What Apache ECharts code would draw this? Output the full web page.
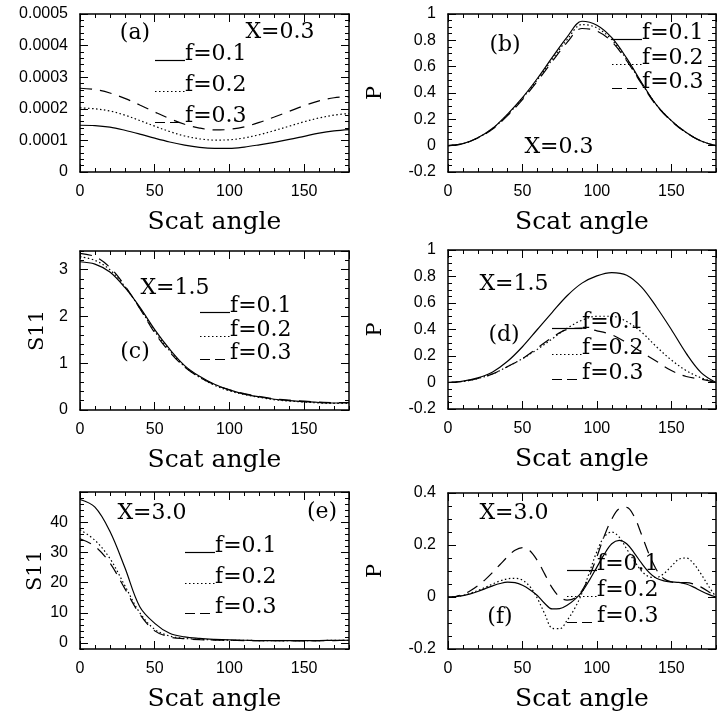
<!DOCTYPE html>
<html lang="en">
<head>
  <meta charset="utf-8">
  <script type="text/javascript" src="https://cdn.jsdelivr.net/npm/echarts@6/dist/echarts.min.js"></script>
</head>
<body style="margin: 0; background: #fff">
  <div id="container" style="width: 725px; height: 713px"></div>
  <script type="text/javascript">
    // scattering angle grids (degrees)
    var angles10 = [0, 10, 20, 30, 40, 50, 60, 70, 80, 90, 100, 110, 120, 130, 140, 150, 160, 170, 180];
    var angles5 = [0, 5, 10, 15, 20, 25, 30, 35, 40, 45, 50, 55, 60, 65, 70, 75, 80, 85, 90,
      95, 100, 105, 110, 115, 120, 125, 130, 135, 140, 145, 150, 155, 160, 165, 170, 175, 180];
    var names = ['f=0.1', 'f=0.2', 'f=0.3'];

    // (a) S11, X=0.3
    var a_f1 = [0.000148, 0.000147, 0.000142, 0.000132, 0.000120, 0.000107, 0.000095, 0.000085, 0.000078, 0.000075,
      0.000075, 0.000079, 0.000086, 0.000094, 0.000103, 0.000113, 0.000123, 0.000130, 0.000134];
    var a_f2 = [0.000203, 0.000200, 0.000193, 0.000180, 0.000163, 0.000145, 0.000128, 0.000114, 0.000105, 0.000101,
      0.000102, 0.000108, 0.000118, 0.000131, 0.000145, 0.000159, 0.000171, 0.000180, 0.000185];
    var a_f3 = [0.000265, 0.000261, 0.000250, 0.000233, 0.000212, 0.000190, 0.000169, 0.000151, 0.000139, 0.000133,
      0.000135, 0.000143, 0.000157, 0.000174, 0.000192, 0.000210, 0.000225, 0.000235, 0.000238];

    // (b) P, X=0.3
    var b_f1 = [0, 0.015, 0.06, 0.132, 0.24, 0.365, 0.51, 0.67, 0.825, 0.945, 0.915, 0.82, 0.665, 0.48, 0.31, 0.19, 0.1, 0.035, 0];
    var b_f2 = [0, 0.015, 0.06, 0.13, 0.235, 0.36, 0.5, 0.655, 0.805, 0.92, 0.895, 0.805, 0.655, 0.475, 0.31, 0.19, 0.1, 0.035, 0];
    var b_f3 = [0, 0.015, 0.058, 0.127, 0.228, 0.35, 0.49, 0.64, 0.785, 0.89, 0.87, 0.79, 0.645, 0.47, 0.305, 0.187, 0.098, 0.034, 0];

    // (c) S11, X=1.5
    var c_f1 = [3.17, 3.12, 2.95, 2.62, 2.2, 1.72, 1.3, 0.95, 0.72, 0.55, 0.43, 0.34, 0.28, 0.23, 0.2, 0.18, 0.16, 0.15, 0.15];
    var c_f2 = [3.28, 3.2, 3.0, 2.64, 2.18, 1.68, 1.27, 0.93, 0.7, 0.53, 0.41, 0.33, 0.27, 0.22, 0.19, 0.17, 0.15, 0.14, 0.14];
    var c_f3 = [3.35, 3.28, 3.05, 2.66, 2.17, 1.65, 1.24, 0.92, 0.7, 0.54, 0.43, 0.35, 0.29, 0.24, 0.21, 0.19, 0.17, 0.16, 0.16];

    // (d) P, X=1.5
    var d_f1 = [0, 0.01, 0.035, 0.08, 0.16, 0.27, 0.4, 0.53, 0.655, 0.75, 0.805, 0.83, 0.81, 0.72, 0.57, 0.4, 0.22, 0.075, 0];
    var d_f2 = [0, 0.008, 0.03, 0.065, 0.12, 0.18, 0.25, 0.33, 0.41, 0.47, 0.5, 0.5, 0.46, 0.38, 0.27, 0.17, 0.09, 0.035, 0];
    var d_f3 = [0, 0.008, 0.03, 0.065, 0.12, 0.18, 0.26, 0.34, 0.4, 0.41, 0.39, 0.36, 0.3, 0.23, 0.16, 0.09, 0.045, 0.025, 0];

    // (e) S11, X=3.0
    var e_f1 = [47.5, 45, 37, 25, 12, 6.5, 3.2, 2.0, 1.5, 1.2, 1.0, 0.9, 0.8, 0.8, 0.75, 0.75, 0.8, 0.85, 0.9];
    var e_f2 = [37.5, 34, 28, 19, 10, 4.5, 2.3, 1.5, 1.2, 1.0, 0.9, 0.85, 0.8, 0.75, 0.75, 0.75, 0.8, 0.85, 0.9];
    var e_f3 = [34.5, 32, 26.5, 18, 9.5, 4, 2, 1.4, 1.1, 0.95, 0.85, 0.8, 0.75, 0.75, 0.7, 0.7, 0.75, 0.8, 0.85];

    // (f) P, X=3.0 (5 degree steps)
    var f_f1 = [0, 0.001, 0.005, 0.012, 0.021, 0.032, 0.043, 0.052, 0.057, 0.055, 0.045, 0.028, 0.006, -0.025, -0.046, -0.045,
      -0.032, -0.01, 0.02, 0.065, 0.115, 0.165, 0.205, 0.218, 0.205, 0.17, 0.13, 0.095, 0.072, 0.062, 0.058, 0.056,
      0.05, 0.038, 0.023, 0.01, 0];
    var f_f2 = [0, 0.001, 0.006, 0.014, 0.025, 0.037, 0.05, 0.062, 0.07, 0.072, 0.065, 0.04, -0.005, -0.065, -0.12, -0.122,
      -0.09, -0.045, 0.015, 0.095, 0.175, 0.232, 0.25, 0.23, 0.185, 0.14, 0.1, 0.078, 0.075, 0.09, 0.118, 0.145,
      0.15, 0.128, 0.088, 0.042, 0];
    var f_f3 = [0, 0.002, 0.01, 0.024, 0.043, 0.067, 0.095, 0.125, 0.155, 0.18, 0.19, 0.178, 0.14, 0.088, 0.035, 0.0,
      -0.012, -0.005, 0.025, 0.08, 0.155, 0.235, 0.3, 0.34, 0.345, 0.31, 0.24, 0.165, 0.105, 0.07, 0.058, 0.055,
      0.055, 0.05, 0.038, 0.02, 0];

    var TICK_FONT = 'Liberation Sans';
    var TEXT_FONT = 'DejaVu Serif';

    // y: [min, max, major step, minor step]; key: [line x, first row y, row step]
    var panels = [
      { grid: { left: 80, top: 14, width: 269, height: 158 }, y: [0, 0.0005, 0.0001, 0.00002], yName: '', nameGap: 0,
        xs: angles10, sets: [a_f1, a_f2, a_f3], key: [155, 60, 31] },
      { grid: { left: 448, top: 14, width: 268, height: 158 }, y: [-0.2, 1, 0.2, 0.05], yName: 'P', nameGap: 62,
        xs: angles10, sets: [b_f1, b_f2, b_f3], key: [612, 39, 24.5] },
      { grid: { left: 80, top: 251, width: 269, height: 159 }, y: [0, 3.4, 1, 0.2], yName: 'S11', nameGap: 32, hideMax: true,
        xs: angles10, sets: [c_f1, c_f2, c_f3], key: [200, 312, 23.5] },
      { grid: { left: 448, top: 250, width: 268, height: 159 }, y: [-0.2, 1, 0.2, 0.05], yName: 'P', nameGap: 62,
        xs: angles10, sets: [d_f1, d_f2, d_f3], key: [552, 328, 25.5] },
      { grid: { left: 80, top: 492, width: 269, height: 158 }, y: [-2, 50, 10, 2], yName: 'S11', nameGap: 34,
        ticksAt: [0, 10, 20, 30, 40, 50], labelsAt: [0, 10, 20, 30, 40],
        xs: angles10, sets: [e_f1, e_f2, e_f3], key: [185, 552, 30.5] },
      { grid: { left: 448, top: 493, width: 268, height: 157 }, y: [-0.2, 0.4, 0.2, 0.05], yName: 'P', nameGap: 62,
        xs: angles5, sets: [f_f1, f_f2, f_f3], key: [567, 570, 26] }
    ];

    var notes = [
      ['(a)', 135, 33], ['X=0.3', 280, 32],
      ['(b)', 505, 45], ['X=0.3', 559, 147],
      ['X=1.5', 175, 288], ['(c)', 135, 352],
      ['X=1.5', 514, 284], ['(d)', 504, 335],
      ['X=3.0', 152, 513], ['(e)', 322, 512],
      ['X=3.0', 514, 513], ['(f)', 500, 617]
    ];

    var dashes = [null, [1.5, 2.5], [12, 8]];
    var keyDashes = [null, [1.5, 2.5], [10, 5]];

    var grids = [], xAxis = [], yAxis = [], series = [], graphics = [];

    function axis(g, pos, min, max, step, major, opts) {
      opts = opts || {};
      var a = {
        gridIndex: g, type: 'value', position: pos, min: min, max: max, interval: step,
        axisLine: { show: major, onZero: false, lineStyle: { color: '#000', width: 1.5 } },
        axisTick: { show: true, inside: true, length: major ? 8 : 4, lineStyle: { color: '#000', width: 1 } },
        axisLabel: { show: !!opts.labels, margin: 12, color: '#000', fontFamily: TICK_FONT, fontSize: 16,
          showMaxLabel: opts.hideMax ? false : null },
        splitLine: { show: false }
      };
      if (opts.ticksAt) a.axisTick.customValues = opts.ticksAt;
      if (opts.labelsAt) a.axisLabel.customValues = opts.labelsAt;
      if (opts.name) {
        a.name = opts.name;
        a.nameLocation = 'middle';
        a.nameGap = opts.nameGap;
        a.nameTextStyle = { fontFamily: TEXT_FONT, fontSize: opts.nameSize, color: '#000' };
      }
      return a;
    }

    panels.forEach(function (p, g) {
      grids.push(p.grid);
      // major bottom/top, then two minor axes (grid puts one on each side)
      xAxis.push(axis(g, 'bottom', 0, 180, 50, true, { labels: true, hideMax: true, name: 'Scat angle', nameGap: 38, nameSize: 25 }));
      xAxis.push(axis(g, 'top', 0, 180, 50, true));
      xAxis.push(axis(g, 'bottom', 0, 180, 10, false));
      xAxis.push(axis(g, 'top', 0, 180, 10, false));
      yAxis.push(axis(g, 'left', p.y[0], p.y[1], p.y[2], true, {
        labels: true, hideMax: p.hideMax, ticksAt: p.ticksAt, labelsAt: p.labelsAt,
        name: p.yName, nameGap: p.nameGap, nameSize: 21
      }));
      yAxis.push(axis(g, 'right', p.y[0], p.y[1], p.y[2], true, { ticksAt: p.ticksAt }));
      yAxis.push(axis(g, 'left', p.y[0], p.y[1], p.y[3], false));
      yAxis.push(axis(g, 'right', p.y[0], p.y[1], p.y[3], false));

      p.sets.forEach(function (ys, k) {
        series.push({
          name: names[k], type: 'line', xAxisIndex: g * 4, yAxisIndex: g * 4,
          data: p.xs.map(function (x, i) { return [x, ys[i]]; }),
          symbol: 'none', smooth: 0.35, silent: true,
          lineStyle: { color: '#000', width: 1.2, type: dashes[k] || 'solid' }
        });

        // in-plot key: line sample sitting on the text baseline
        var lx = p.key[0], ly = Math.round(p.key[1] + k * p.key[2]) + 0.5;
        graphics.push({
          type: 'line', silent: true,
          shape: { x1: lx, y1: ly, x2: lx + 30, y2: ly },
          style: { stroke: '#000', lineWidth: 1.2, lineDash: keyDashes[k] }
        });
        graphics.push({
          type: 'text', x: lx + 30, y: ly + 5, silent: true,
          style: { text: names[k], fontFamily: TEXT_FONT, fontSize: 22, fill: '#000', align: 'left', verticalAlign: 'bottom' }
        });
      });
    });

    notes.forEach(function (n) {
      graphics.push({
        type: 'text', x: n[1], y: n[2], silent: true,
        style: { text: n[0], fontFamily: TEXT_FONT, fontSize: 22, fill: '#000', align: 'center', verticalAlign: 'middle' }
      });
    });

    var chart = echarts.init(document.getElementById('container'));
    chart.setOption({
      backgroundColor: '#fff',
      animation: false,
      textStyle: { fontFamily: TEXT_FONT },
      grid: grids,
      xAxis: xAxis,
      yAxis: yAxis,
      series: series,
      graphic: graphics
    });
  </script>
</body>
</html>
